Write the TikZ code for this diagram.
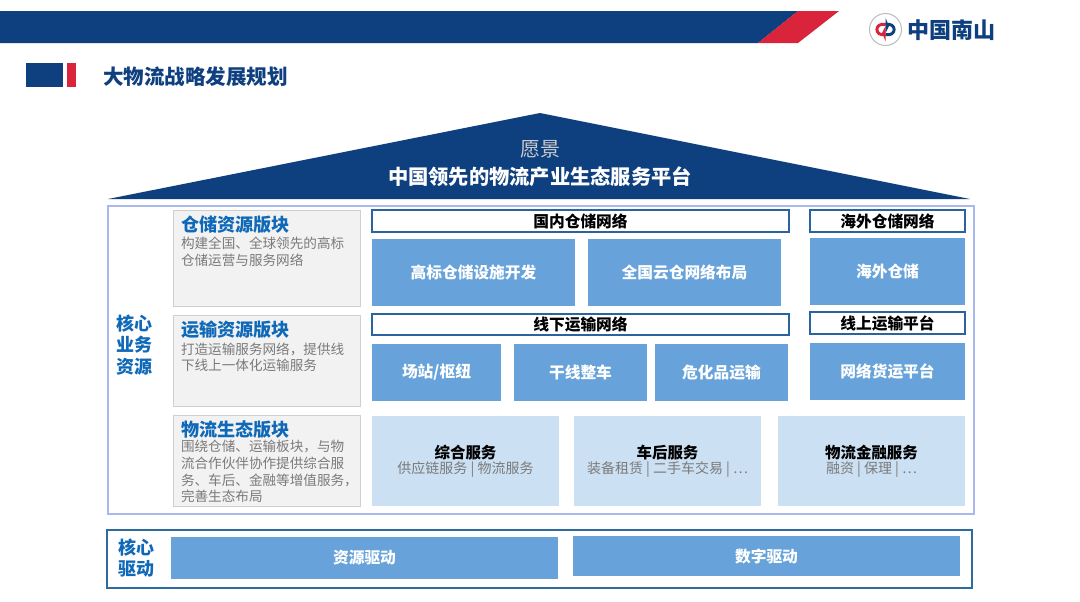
\documentclass[tikz,border=0pt]{standalone}
\usepackage{fontspec}
\setmainfont{Noto Sans CJK SC}
\definecolor{navy}{HTML}{0E3F7E}
\definecolor{barred}{HTML}{D9243C}
\definecolor{midblue}{HTML}{67A3DA}
\definecolor{paleblue}{HTML}{CCE0F3}
\definecolor{headblue}{HTML}{0F69B8}
\definecolor{framelav}{HTML}{A9B9EC}
\definecolor{framedark}{HTML}{2E6B9E}
\definecolor{outlinenavy}{HTML}{2A639E}
\definecolor{greyfill}{HTML}{F2F2F2}
\definecolor{greyline}{HTML}{CFCFCF}
\definecolor{bodygrey}{HTML}{7A7A7A}
\newcommand{\pxbox}[7]{%
  \pgfmathsetmacro{\bw}{(#4-#2)*0.75}\pgfmathsetmacro{\bh}{(#5-#3)*0.75}%
  \node[#6,minimum width=\bw pt,minimum height=\bh pt] (#1) at ({(#2+#4)/2},{(#3+#5)/2}) {#7};}
\tikzset{
  x=0.75pt,y=-0.75pt,
  every node/.style={inner sep=0pt,outer sep=0pt},
  solidblue/.style={fill=midblue,text=white,font=\fontsize{11.8}{14}\selectfont\bfseries},
  palebox/.style={fill=paleblue,align=center},
  outlined/.style={draw=outlinenavy,line width=1.5pt,fill=white,text=black,font=\fontsize{11.8}{13}\selectfont\bfseries},
  greybox/.style={draw=greyline,line width=0.7pt,fill=greyfill},
  headtext/.style={anchor=west,text=headblue,font=\fontsize{13.6}{16}\selectfont\bfseries},
  bodytext/.style={anchor=north west,align=left,text=bodygrey,font=\fontsize{10.2}{12.4}\selectfont},
  sidetext/.style={align=center,text=headblue,font=\fontsize{13.5}{16.2}\selectfont\bfseries},
}
\newcommand{\palehead}[1]{{\fontsize{11.6}{14}\selectfont\bfseries\color{black}#1}}
\newcommand{\palesub}[1]{{\fontsize{10.5}{14}\selectfont\color{bodygrey}#1}}
\begin{document}
\begin{tikzpicture}
\useasboundingbox (0,0) rectangle (1080,601);
\fill[white] (0,0) rectangle (1080,601);
% top bar
\fill[navy] (0,11) -- (798,11) -- (758,43) -- (0,43) -- cycle;
\fill[barred] (798,11) -- (839,11) -- (798,43) -- (758,43) -- cycle;
% logo
\node[circle,draw=black!25,line width=0.8pt,fill=white,minimum size=24pt] (logo) at (885.5,29.5) {};
\draw[barred,line width=2.2pt] (885.5,24.5) .. controls (874,22) and (874,37) .. (885.5,34.5);
\draw[navy,line width=2.2pt] (885.5,24.5) .. controls (897,22) and (897,37) .. (885.5,34.5);
\fill[barred] (885.5,41) -- (882,33) -- (885.5,26) -- cycle;
\fill[navy] (885.5,18) -- (889,26) -- (885.5,33) -- cycle;
\node[text=navy,font=\fontsize{16.5}{18}\selectfont\bfseries,anchor=west] (logotext) at (907,30) {中国南山};
% title
\fill[navy] (26,63) rectangle (63,87);
\fill[barred] (67,63) rectangle (76,87);
\node[anchor=west,text=navy,font=\fontsize{15.4}{18}\selectfont\bfseries] (title) at (103,77) {大物流战略发展规划};
% roof
\fill[navy] (540,113) -- (970,199) -- (108,199) -- cycle;
\node[text=black!20,font=\fontsize{15}{18}\selectfont] (vision) at (540,149) {愿景};
\node[text=white,font=\fontsize{15.2}{18}\selectfont\bfseries] (visiontext) at (540,177) {中国领先的物流产业生态服务平台};
% main frame
\draw[framelav,line width=1.8pt] (108,206) rectangle (974,514);
\node[sidetext] (core) at (134,345) {核心\\业务\\资源};
% grey blocks
\pxbox{g1}{173}{210}{360}{306}{greybox}{}
\pxbox{g2}{173}{315}{360}{406}{greybox}{}
\pxbox{g3}{173}{415}{360}{506}{greybox}{}
\node[headtext] (g1h) at (181,225) {仓储资源版块};
\node[bodytext] (g1b) at (181,237) {构建全国、全球领先的高标\\仓储运营与服务网络};
\node[headtext] (g2h) at (181,330) {运输资源版块};
\node[bodytext] (g2b) at (181,342.5) {打造运输服务网络，提供线\\下线上一体化运输服务};
\node[headtext] (g3h) at (181,430) {物流生态版块};
\node[bodytext] (g3b) at (181,440.5) {围绕仓储、运输板块，与物\\流合作伙伴协作提供综合服\\务、车后、金融等增值服务，\\完善生态布局};
% outlined headers
\pxbox{o1}{372}{210}{789}{232}{outlined}{国内仓储网络}
\pxbox{o2}{810}{210}{965}{232}{outlined}{海外仓储网络}
\pxbox{o3}{372}{314}{789}{335}{outlined}{线下运输网络}
\pxbox{o4}{810}{312}{965}{334}{outlined}{线上运输平台}
% solid blocks
\pxbox{b1}{372}{239}{575}{306}{solidblue}{高标仓储设施开发}
\pxbox{b2}{588}{239}{781}{306}{solidblue}{全国云仓网络布局}
\pxbox{b3}{810}{238}{965}{305}{solidblue}{海外仓储}
\pxbox{b4}{372}{344}{501}{401}{solidblue}{场站/枢纽}
\pxbox{b5}{514}{344}{647}{401}{solidblue}{干线整车}
\pxbox{b6}{655}{344}{788}{401}{solidblue}{危化品运输}
\pxbox{b7}{810}{343}{965}{400}{solidblue}{网络货运平台}
% pale blocks
\pxbox{p1}{372}{416}{559}{506}{palebox}{\palehead{综合服务}\\[-0.5pt]\palesub{供应链服务 | 物流服务}}
\pxbox{p2}{574}{416}{761}{506}{palebox}{\palehead{车后服务}\\[-0.5pt]\palesub{装备租赁 | 二手车交易 | …}}
\pxbox{p3}{778}{416}{965}{506}{palebox}{\palehead{物流金融服务}\\[-0.5pt]\palesub{融资 | 保理 | …}}
% drivers
\draw[framedark,line width=1.5pt] (107,530) rectangle (972,588);
\node[sidetext] (drive) at (136,558) {核心\\驱动};
\pxbox{d1}{171}{537}{558}{579}{solidblue}{资源驱动}
\pxbox{d2}{573}{536}{960}{576}{solidblue}{数字驱动}
\end{tikzpicture}
\end{document}
